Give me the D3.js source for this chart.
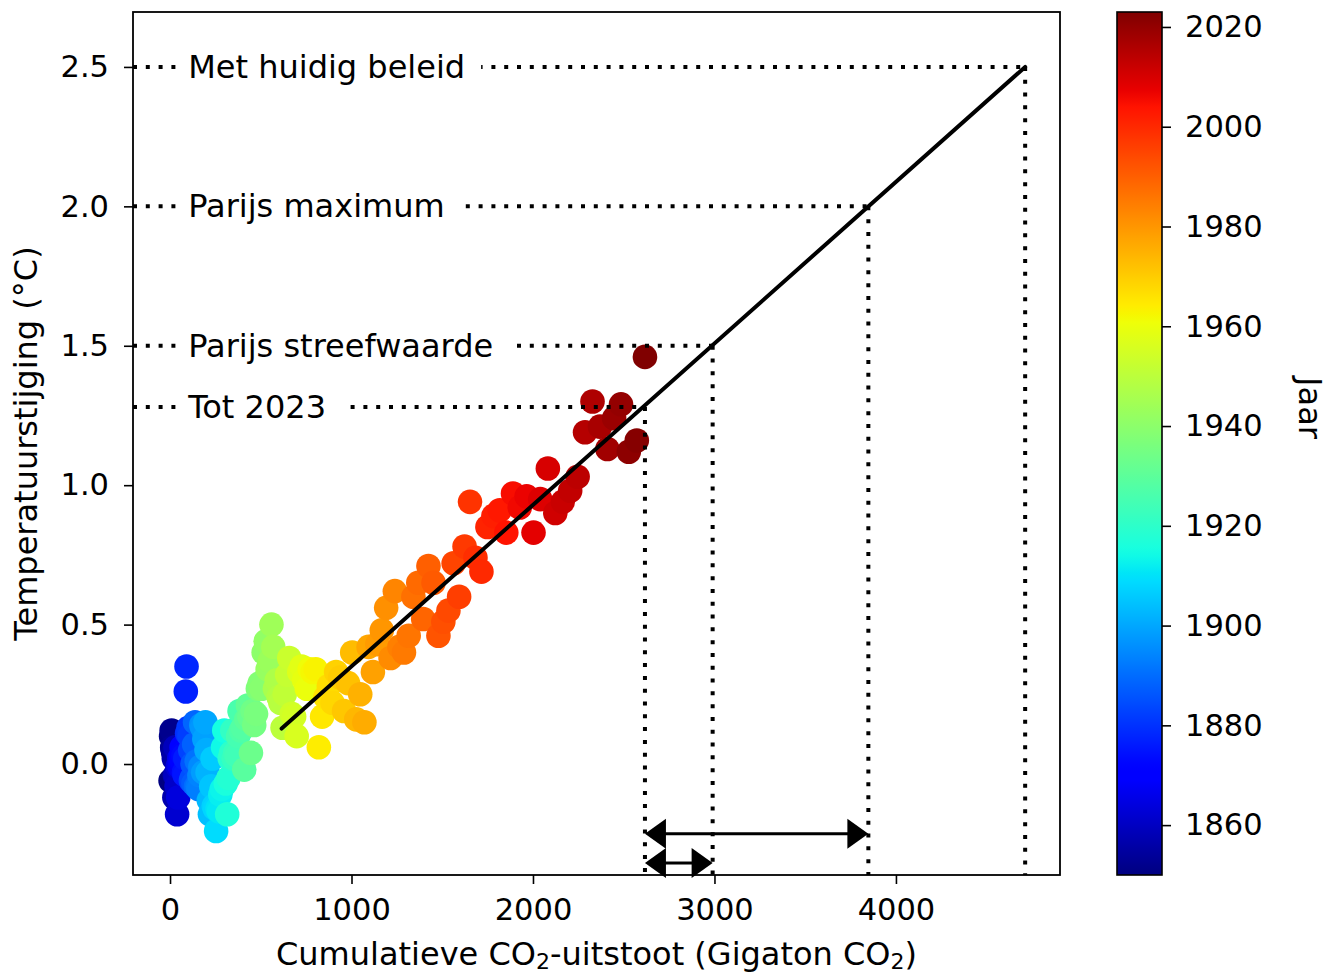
<!DOCTYPE html>
<html><head><meta charset="utf-8">
<script src="https://cdn.jsdelivr.net/npm/d3@7"></script>
<style>
body{margin:0;background:#fff;}
text{font-family:"DejaVu Sans",sans-serif;fill:#000;}
</style>
</head><body>
<svg id="c" width="1339" height="976"></svg>
<script>
// ---------------- data ----------------
const firstYear = 1850, lastYear = 2023;
const years = d3.range(firstYear, lastYear + 1);
// cumulative CO2 emissions since 1850 (Gt CO2), one per year 1850..2023
const cumCO2 = [
  3, 6, 9, 12, 15, 18, 21, 24, 27, 30,
  33, 36, 39, 42, 45, 48, 51, 54, 58, 61,
  64, 67, 71, 74, 77, 81, 84, 87, 91, 94,
  98, 102, 107, 111, 115, 120, 124, 129, 133, 138,
  143, 147, 152, 157, 162, 167, 172, 178, 183, 189,
  195, 201, 207, 214, 220, 227, 234, 241, 247, 254,
  262, 269, 277, 285, 292, 299, 307, 315, 322, 329,
  336, 343, 351, 359, 367, 375, 383, 391, 400, 409,
  420, 429, 437, 446, 455, 464, 474, 484, 494, 504,
  516, 527, 538, 549, 559, 569, 578, 588, 598, 608,
  620, 632, 645, 657, 670, 684, 698, 712, 725, 739,
  754, 770, 786, 803, 820, 838, 856, 875, 895, 915,
  937, 959, 981, 1004, 1026, 1048, 1071, 1094, 1118, 1142,
  1167, 1191, 1215, 1239, 1264, 1289, 1315, 1341, 1368, 1395,
  1424, 1452, 1479, 1506, 1534, 1563, 1593, 1623, 1653, 1683,
  1716, 1749, 1782, 1817, 1853, 1890, 1927, 1965, 2003, 2040,
  2082, 2123, 2164, 2205, 2246, 2287, 2328, 2369, 2410, 2447,
  2485, 2528, 2572, 2617
];
// temperature rise (°C), one per year 1850..2023
const tempRise = [
  -0.06, 0.10, 0.12, 0.06, 0.05, 0.04, 0.02, -0.12, -0.04, 0.06,
  -0.04, -0.08, -0.18, -0.01, -0.12, 0.00, 0.02, -0.01, 0.01, 0.03,
  0.06, 0.01, 0.04, 0.03, -0.03, -0.04, 0.02, 0.26, 0.35, 0.11,
  0.11, 0.13, 0.10, 0.05, -0.06, -0.05, 0.00, -0.07, 0.07, 0.15,
  -0.08, 0.01, -0.08, -0.09, -0.04, -0.01, 0.14, 0.13, -0.03, 0.09,
  0.15, 0.05, -0.03, -0.13, -0.18, -0.08, 0.02, -0.15, -0.16, -0.24,
  -0.16, -0.17, -0.11, -0.09, 0.06, 0.12, -0.07, -0.18, -0.05, 0.02,
  0.04, 0.12, 0.02, 0.04, 0.03, 0.10, 0.19, 0.12, 0.13, -0.02,
  0.16, 0.21, 0.17, 0.04, 0.19, 0.14, 0.18, 0.27, 0.29, 0.27,
  0.40, 0.44, 0.34, 0.37, 0.50, 0.42, 0.27, 0.30, 0.24, 0.22,
  0.13, 0.25, 0.32, 0.38, 0.18, 0.17, 0.10, 0.33, 0.35, 0.30,
  0.27, 0.34, 0.33, 0.34, 0.06, 0.17, 0.24, 0.28, 0.22, 0.33,
  0.31, 0.19, 0.29, 0.40, 0.16, 0.25, 0.15, 0.42, 0.33, 0.43,
  0.48, 0.56, 0.38, 0.62, 0.42, 0.40, 0.46, 0.60, 0.65, 0.52,
  0.71, 0.65, 0.46, 0.51, 0.55, 0.72, 0.60, 0.78, 0.94, 0.74,
  0.69, 0.85, 0.89, 0.91, 0.83, 0.97, 0.92, 0.96, 0.83, 0.95,
  1.06, 0.90, 0.94, 0.98, 1.03, 1.19, 1.30, 1.21, 1.13, 1.24,
  1.29, 1.12, 1.16, 1.46
];
// fitted line end points
const fitX = [615, 4712];
const fitY = [0.127, 2.5];
// scenario annotations
const scenarioLabels = ["Met huidig beleid", "Parijs maximum", "Parijs streefwaarde", "Tot 2023"];
const scenarioTemps = [2.5, 2.0, 1.5, 1.28];
const scenarioBudgets = [4712, 3848, 2990, 2617];
const labelX = 100;
// arrows
const arrowFrom = [2617, 2617];
const arrowTo = [3848, 2990];
const arrowLevel = [-0.25, -0.355];
// ticks
const xTicks = [0, 1000, 2000, 3000, 4000];
const yTicks = [0.0, 0.5, 1.0, 1.5, 2.0, 2.5];
const cbTicks = [1860, 1880, 1900, 1920, 1940, 1960, 1980, 2000, 2020];

// ---------------- jet colormap ----------------
function pw(t, pts){
  for(let i=1;i<pts.length;i++){
    if(t<=pts[i][0]){
      const a=pts[i-1], b=pts[i];
      return a[1]+(b[1]-a[1])*(t-a[0])/(b[0]-a[0]);
    }
  }
  return pts[pts.length-1][1];
}
function jet(t){
  t=Math.max(0,Math.min(1,t));
  const r=pw(t,[[0,0],[0.35,0],[0.66,1],[0.89,1],[1,0.5]]);
  const g=pw(t,[[0,0],[0.125,0],[0.375,1],[0.64,1],[0.91,0],[1,0]]);
  const b=pw(t,[[0,0.5],[0.11,1],[0.34,1],[0.65,0],[1,0]]);
  return d3.rgb(r*255,g*255,b*255).formatHex();
}

// ---------------- layout ----------------
const svg = d3.select("#c");
const L=133, R=1060, T=12, B=875;
const x = d3.scaleLinear().domain([-204, 4904]).range([L, R]);
const y = d3.scaleLinear().domain([-0.398, 2.697]).range([B, T]);
const cNorm = d3.scaleLinear().domain([firstYear, lastYear]).range([0, 1]);
const cY = d3.scaleLinear().domain([firstYear, lastYear]).range([B, T]);

const data = years.map((yr,i)=>({year:yr, cum:cumCO2[i], t:tempRise[i]}));

// points
svg.append("g").selectAll("circle").data(data).join("circle")
  .attr("cx", d=>x(d.cum)).attr("cy", d=>y(d.t)).attr("r", 12.3)
  .attr("fill", d=>jet(cNorm(d.year)));

// fit line
svg.append("line")
  .attr("x1", x(fitX[0])).attr("y1", y(fitY[0]))
  .attr("x2", x(fitX[1])).attr("y2", y(fitY[1]))
  .attr("stroke", "#000").attr("stroke-width", 4).attr("stroke-linecap","round");

// dotted lines
const dots = svg.append("g");
scenarioTemps.forEach((lv,i)=>{
  dots.append("line")
    .attr("x1", L).attr("x2", x(scenarioBudgets[i]))
    .attr("y1", y(lv)).attr("y2", y(lv))
    .attr("stroke","#000").attr("stroke-width",4).attr("stroke-dasharray","4,8.8");
  dots.append("line")
    .attr("x1", x(scenarioBudgets[i])).attr("x2", x(scenarioBudgets[i]))
    .attr("y1", y(lv)).attr("y2", B)
    .attr("stroke","#000").attr("stroke-width",4).attr("stroke-dasharray","4,8.8");
});

// labels with white boxes
const lab = svg.append("g");
scenarioLabels.forEach((s,i)=>{
  const g = lab.append("g");
  const t = g.append("text").attr("x", x(labelX)).attr("y", y(scenarioTemps[i]) + 11)
    .attr("font-size", 32).text(s);
  const bb = t.node().getBBox();
  g.insert("rect","text").attr("x", bb.x-8).attr("y", bb.y).attr("width", bb.width+24)
    .attr("height", bb.height).attr("fill","#fff");
});

// arrows
const arr = svg.append("g");
arrowFrom.forEach((a,i)=>{
  const x1=x(a), x2=x(arrowTo[i]), yy=y(arrowLevel[i]);
  const hl=21, hw=15;
  arr.append("line").attr("x1",x1+hl-2).attr("x2",x2-hl+2).attr("y1",yy).attr("y2",yy)
    .attr("stroke","#000").attr("stroke-width",3);
  arr.append("path").attr("d",`M${x1},${yy}L${x1+hl},${yy-hw}L${x1+hl},${yy+hw}Z`).attr("fill","#000");
  arr.append("path").attr("d",`M${x2},${yy}L${x2-hl},${yy-hw}L${x2-hl},${yy+hw}Z`).attr("fill","#000");
});

// frame
svg.append("rect").attr("x",L).attr("y",T).attr("width",R-L).attr("height",B-T)
  .attr("fill","none").attr("stroke","#000").attr("stroke-width",1.8);

// axes
const ax = svg.append("g").attr("transform",`translate(0,${B})`)
  .call(d3.axisBottom(x).tickValues(xTicks).tickFormat(d3.format("d")).tickSize(9).tickPadding(14));
const ay = svg.append("g").attr("transform",`translate(${L},0)`)
  .call(d3.axisLeft(y).tickValues(yTicks).tickFormat(d3.format(".1f")).tickSize(9).tickPadding(15));
[ax,ay].forEach(a=>{
  a.select(".domain").remove();
  a.selectAll(".tick line").attr("stroke","#000").attr("stroke-width",1.6);
  a.selectAll(".tick text").attr("font-size",30.5).attr("font-family","DejaVu Sans").attr("fill","#000");
});

// axis titles
const xt = svg.append("text").attr("x",(L+R)/2).attr("y",965).attr("text-anchor","middle").attr("font-size",32);
xt.append("tspan").text("Cumulatieve CO");
xt.append("tspan").attr("font-size",22).attr("dy",4).text("2");
xt.append("tspan").attr("dy",-4).text("-uitstoot (Gigaton CO");
xt.append("tspan").attr("font-size",22).attr("dy",4).text("2");
xt.append("tspan").attr("dy",-4).text(")");

svg.append("text").attr("transform",`translate(37,${(T+B)/2}) rotate(-90)`)
  .attr("text-anchor","middle").attr("font-size",32).text("Temperatuurstijging (°C)");

// colorbar
const CL=1117, CR=1162;
const defs = svg.append("defs");
const grad = defs.append("linearGradient").attr("id","jetg")
  .attr("x1","0").attr("y1","1").attr("x2","0").attr("y2","0");
d3.range(0,101).forEach(k=>{
  grad.append("stop").attr("offset",(k)+"%").attr("stop-color",jet(k/100));
});
svg.append("rect").attr("x",CL).attr("y",T).attr("width",CR-CL).attr("height",B-T)
  .attr("fill","url(#jetg)").attr("stroke","#000").attr("stroke-width",1.6);
const ac = svg.append("g").attr("transform",`translate(${CR},0)`)
  .call(d3.axisRight(cY).tickValues(cbTicks).tickFormat(d3.format("d")).tickSize(9).tickPadding(14));
ac.select(".domain").remove();
ac.selectAll(".tick line").attr("stroke","#000").attr("stroke-width",1.6);
ac.selectAll(".tick text").attr("font-size",30.5).attr("font-family","DejaVu Sans").attr("fill","#000");

svg.append("text").attr("transform",`translate(1299,408) rotate(90)`)
  .attr("text-anchor","middle").attr("font-size",32).text("Jaar");
</script>
</body></html>
